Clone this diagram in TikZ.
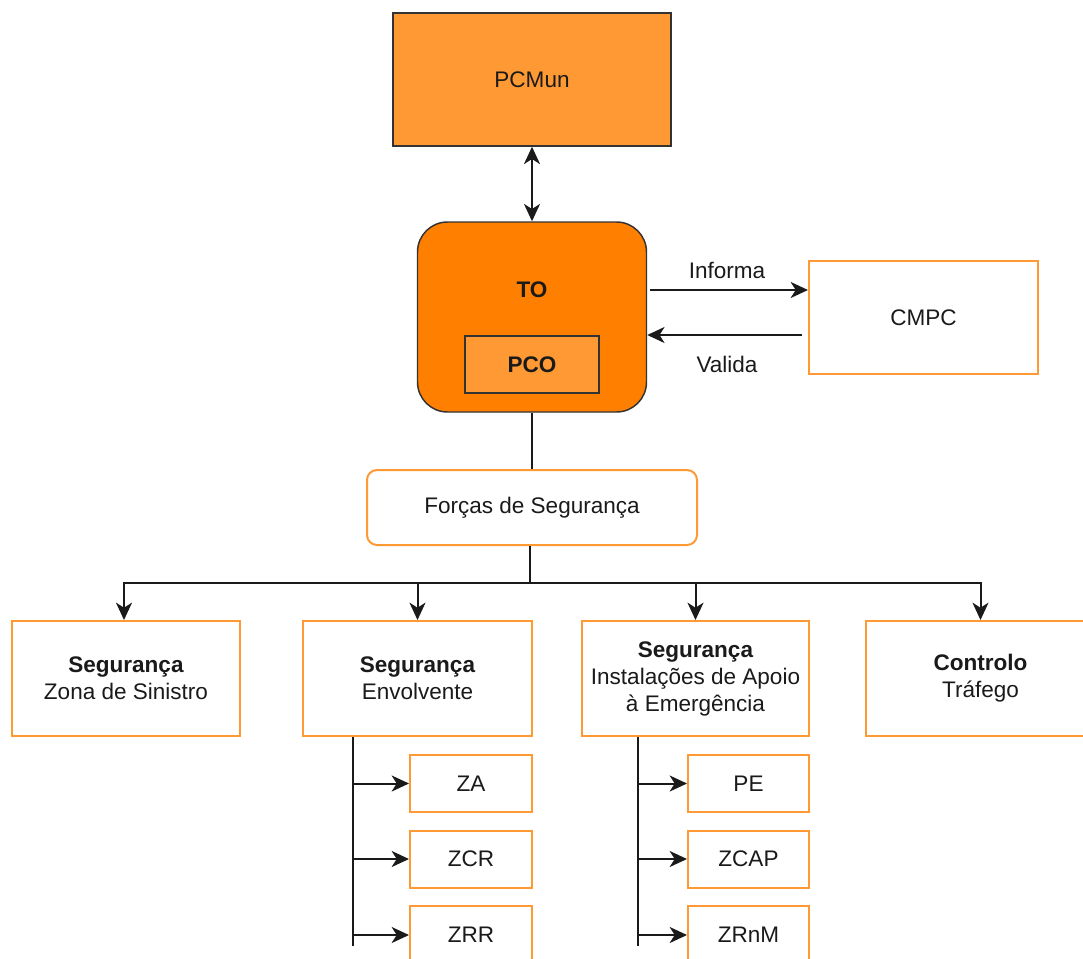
\documentclass[tikz,border=0pt]{standalone}
\usepackage{fontspec}
\setmainfont{Liberation Sans}
\usetikzlibrary{arrows.meta,calc}

\definecolor{lightorange}{HTML}{FF9933}
\definecolor{deeporange}{HTML}{FF8000}
\definecolor{frame}{HTML}{333333}
\definecolor{ink}{HTML}{1A1A1A}

\tikzset{
  base/.style={font=\fontsize{16.9}{20.25}\selectfont, text=ink, inner sep=0pt, align=center},
  darkbox/.style={base, draw=frame, line width=1.1pt},
  orangebox/.style={base, draw=lightorange, line width=1.5pt, fill=white},
  dims/.style 2 args={minimum width={#1*0.75pt}, minimum height={#2*0.75pt}},
  conn/.style={draw=ink, line width=1.5pt},
  headtip/.tip={Stealth[length=13pt, width=12pt, inset=3.8pt]},
  tip/.style={-headtip},
  bothtips/.style={headtip-headtip}
}

\begin{document}
\begin{tikzpicture}[x=0.75pt, y=-0.75pt]
  \clip (0,0) rectangle (1083,958);
  \fill[white] (0,0) rectangle (1083,958);

  % upper command levels
  \node[darkbox, fill=lightorange, dims={278}{133}] (pcmun) at (532,79.5) {PCMun};
  \node[darkbox, fill=deeporange, dims={229}{190}, rounded corners=22.5pt] (to) at (532,317) {};
  \node[base, font=\fontsize{16.9}{20.25}\selectfont\bfseries] (tolabel) at (532,290) {TO};
  \node[darkbox, fill=lightorange, dims={134}{57}, font=\fontsize{16.9}{20.25}\selectfont\bfseries] (pco) at (532,364.5) {PCO};
  \node[orangebox, dims={229}{113}] (cmpc) at (923.5,317.5) {CMPC};

  \draw[conn, bothtips] (pcmun) -- (to);

  % exchange with CMPC
  \draw[conn, tip] ([xshift=2.25pt]to.east |- tolabel) -- (cmpc.west |- tolabel);
  \draw[conn, tip] ($(cmpc.west)+(-6,17.5)$) -- ($(to.east)+(0,18)$);
  \node[base] (informa) at (727,270) {Informa};
  \node[base] (valida) at (727,364) {Valida};

  % security forces
  \node[orangebox, dims={330}{75}, rounded corners=7.5pt] (forcas) at (532,507.5) {Forças de Segurança};
  \draw[conn] (to) -- (forcas);

  % branch level
  \node[orangebox, dims={228}{115}] (zs) at (126,678.5) {\textbf{Segurança}\\Zona de Sinistro};
  \node[orangebox, dims={229}{115}] (env) at (417.5,678.5) {\textbf{Segurança}\\Envolvente};
  \node[orangebox, dims={227}{115}] (iae) at (695.5,678.5) {\textbf{Segurança}\\Instalações de Apoio\\à Emergência};
  \node[orangebox, dims={229}{115}] (traf) at (980.5,678.5) {\textbf{Controlo}\\Tráfego};

  \draw[conn] ([xshift=-1.5pt]forcas.south) -- ++(0,37) coordinate (fork);
  \draw[conn, tip] (fork) -| ([xshift=-1.5pt]zs.north);
  \draw[conn, tip] (fork) -| (env.north);
  \draw[conn, tip] (fork) -| (iae.north);
  \draw[conn, tip] (fork) -| (traf.north);

  % sub-areas of Envolvente
  \node[orangebox, dims={122}{57}] (za) at (471,783.5) {ZA};
  \node[orangebox, dims={122}{57}] (zcr) at (471,859) {ZCR};
  \node[orangebox, dims={122}{58}] (zrr) at (471,935) {ZRR};
  \coordinate (envtrunk) at ($(env.south west)+(51,0)$);
  \draw[conn] (envtrunk) -- ++(0,209);
  \draw[conn, tip] (envtrunk |- za) -- (za);
  \draw[conn, tip] (envtrunk |- zcr) -- (zcr);
  \draw[conn, tip] (envtrunk |- zrr) -- (zrr);

  % sub-areas of Instalações de Apoio
  \node[orangebox, dims={121}{57}] (pe) at (748.5,783.5) {PE};
  \node[orangebox, dims={121}{57}] (zcap) at (748.5,859) {ZCAP};
  \node[orangebox, dims={121}{58}] (zrnm) at (748.5,935) {ZRnM};
  \coordinate (iaetrunk) at ($(iae.south west)+(57,0)$);
  \draw[conn] (iaetrunk) -- ++(0,209);
  \draw[conn, tip] (iaetrunk |- pe) -- (pe);
  \draw[conn, tip] (iaetrunk |- zcap) -- (zcap);
  \draw[conn, tip] (iaetrunk |- zrnm) -- (zrnm);
\end{tikzpicture}
\end{document}
